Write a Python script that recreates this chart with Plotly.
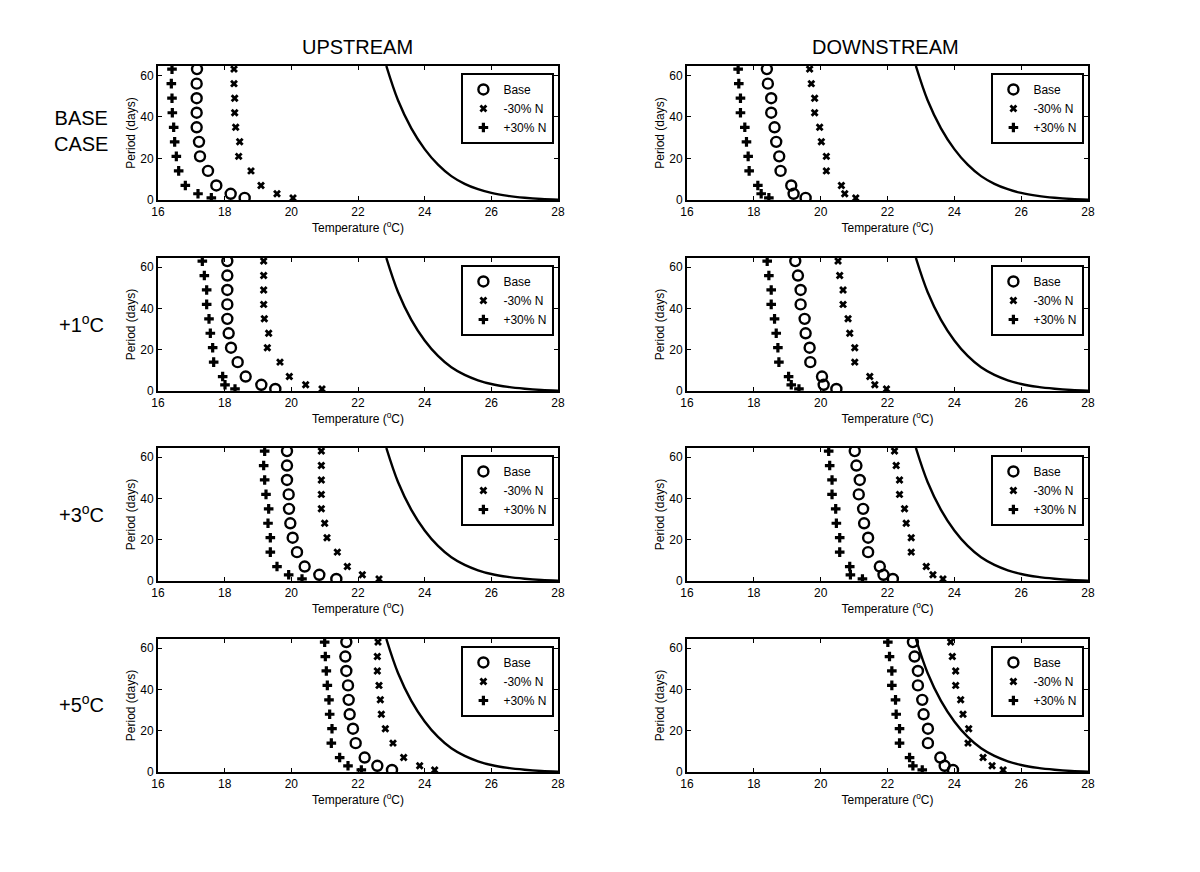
import plotly.graph_objects as go

period = [1, 3, 7, 14, 21, 28, 35, 42, 49, 56, 63]

# threshold curve (same in every panel)
curve_t = [22.85, 23.2, 23.6, 24.0, 24.4, 24.8, 25.2, 25.6, 26.0, 26.5, 27.0, 27.5, 28.0]
curve_p = [64.5, 48, 34.5, 24.5, 17, 11.5, 7.8, 5.2, 3.4, 2.0, 1.1, 0.5, 0.15]

# upstream
up_base_base = [18.6, 18.18, 17.75, 17.5, 17.26, 17.23, 17.16, 17.16, 17.16, 17.16, 17.17]
up_base_m30 = [20.05, 19.57, 19.09, 18.79, 18.42, 18.45, 18.33, 18.3, 18.3, 18.28, 18.28]
up_base_p30 = [17.6, 17.2, 16.82, 16.62, 16.55, 16.5, 16.47, 16.43, 16.42, 16.4, 16.42]

up_p1_base = [19.52, 19.1, 18.63, 18.39, 18.19, 18.12, 18.08, 18.08, 18.08, 18.08, 18.08]
up_p1_m30 = [20.92, 20.43, 19.94, 19.66, 19.28, 19.32, 19.19, 19.17, 19.17, 19.17, 19.17]
up_p1_p30 = [18.31, 18.01, 17.94, 17.67, 17.64, 17.57, 17.53, 17.46, 17.46, 17.39, 17.33]

up_p3_base = [21.35, 20.84, 20.4, 20.17, 20.04, 19.97, 19.93, 19.92, 19.87, 19.87, 19.87]
up_p3_m30 = [22.63, 22.13, 21.68, 21.38, 21.07, 21.0, 20.9, 20.9, 20.9, 20.9, 20.9]
up_p3_p30 = [20.32, 19.92, 19.57, 19.37, 19.37, 19.3, 19.32, 19.24, 19.2, 19.17, 19.2]

up_p5_base = [23.02, 22.58, 22.2, 21.93, 21.85, 21.75, 21.72, 21.7, 21.65, 21.62, 21.65]
up_p5_m30 = [24.3, 23.85, 23.37, 23.05, 22.82, 22.7, 22.67, 22.63, 22.58, 22.58, 22.6]
up_p5_p30 = [22.1, 21.7, 21.45, 21.2, 21.22, 21.15, 21.13, 21.08, 21.05, 21.02, 21.0]

# downstream
dn_base_base = [19.55, 19.19, 19.12, 18.8, 18.76, 18.67, 18.62, 18.52, 18.52, 18.42, 18.39]
dn_base_m30 = [21.05, 20.72, 20.62, 20.17, 20.17, 20.02, 19.97, 19.82, 19.82, 19.72, 19.67]
dn_base_p30 = [18.45, 18.22, 18.12, 17.86, 17.83, 17.78, 17.73, 17.6, 17.6, 17.55, 17.53]

dn_p1_base = [20.47, 20.09, 20.04, 19.69, 19.67, 19.55, 19.52, 19.4, 19.4, 19.32, 19.24]
dn_p1_m30 = [21.97, 21.62, 21.47, 21.02, 21.02, 20.87, 20.82, 20.67, 20.67, 20.57, 20.52]
dn_p1_p30 = [19.35, 19.12, 19.04, 18.75, 18.72, 18.67, 18.62, 18.52, 18.52, 18.45, 18.4]

dn_p3_base = [22.16, 21.88, 21.77, 21.42, 21.42, 21.3, 21.27, 21.14, 21.17, 21.07, 21.02]
dn_p3_m30 = [23.66, 23.36, 23.16, 22.71, 22.71, 22.56, 22.51, 22.36, 22.36, 22.26, 22.21]
dn_p3_p30 = [21.25, 20.89, 20.87, 20.57, 20.57, 20.47, 20.45, 20.34, 20.34, 20.27, 20.24]

dn_p5_base = [23.96, 23.71, 23.58, 23.21, 23.21, 23.08, 23.04, 22.91, 22.91, 22.81, 22.76]
dn_p5_m30 = [25.46, 25.13, 24.86, 24.41, 24.43, 24.26, 24.19, 24.04, 24.04, 23.94, 23.89]
dn_p5_p30 = [23.04, 22.76, 22.66, 22.36, 22.36, 22.26, 22.24, 22.13, 22.13, 22.06, 22.01]

panels = [
    (up_base_base, up_base_m30, up_base_p30),
    (dn_base_base, dn_base_m30, dn_base_p30),
    (up_p1_base, up_p1_m30, up_p1_p30),
    (dn_p1_base, dn_p1_m30, dn_p1_p30),
    (up_p3_base, up_p3_m30, up_p3_p30),
    (dn_p3_base, dn_p3_m30, dn_p3_p30),
    (up_p5_base, up_p5_m30, up_p5_p30),
    (dn_p5_base, dn_p5_m30, dn_p5_p30),
]
row_labels = ["BASE<br>CASE", "+1<sup>o</sup>C", "+3<sup>o</sup>C", "+5<sup>o</sup>C"]
row_label_y = [130, 322, 512, 702]

W, H = 1200, 872
OX, OY = 7, 7  # page offset compensation
col_px = [(157, 557), (686, 1087)]
row_px = [(65, 199), (257, 390), (447, 580), (638, 771)]
px = lambda v: (v - OX) / W
py = lambda v: 1 - (v - OY) / H

font = dict(family="Liberation Sans, Arial", color="black")
fig = go.Figure()
layout = dict(width=W, height=H, margin=dict(l=0, r=0, t=0, b=0, autoexpand=False),
              plot_bgcolor="white", paper_bgcolor="white", font=font)
annotations = []

for i, (base, m30, p30) in enumerate(panels):
    r, c = divmod(i, 2)
    n = "" if i == 0 else str(i + 1)
    top, bot = row_px[r]
    xdom = (px(col_px[c][0]), px(col_px[c][1]))
    ydom = (py(bot), py(top))
    lg = "legend" + n
    common = dict(xaxis="x" + n, yaxis="y" + n, legend=lg, mode="markers")
    fig.add_trace(go.Scatter(x=base, y=period, name="Base", **common,
                             marker=dict(symbol="circle-open", size=10, color="black",
                                         line=dict(width=2.4, color="black"))))
    fig.add_trace(go.Scatter(x=m30, y=period, name="-30% N", **common,
                             marker=dict(symbol="x", size=7, color="black", line=dict(width=0))))
    fig.add_trace(go.Scatter(x=p30, y=period, name="+30% N", **common,
                             marker=dict(symbol="cross", size=8, color="black", line=dict(width=0))))
    fig.add_trace(go.Scatter(x=curve_t, y=curve_p, mode="lines", line=dict(color="black", width=2.4, shape="spline"),
                             xaxis="x" + n, yaxis="y" + n, showlegend=False))
    axstyle = dict(showline=True, linecolor="black", linewidth=2, mirror="ticks", ticks="inside",
                   ticklen=4, tickcolor="black", showgrid=False, zeroline=False, automargin=False,
                   tickfont=dict(size=12, **font))
    layout["xaxis" + n] = dict(domain=xdom, range=[16, 28], tickvals=[16, 18, 20, 22, 24, 26, 28],
                               anchor="y" + n, title=dict(text="Temperature (<sup>o</sup>C)", font=dict(size=12), standoff=2),
                               **axstyle)
    layout["yaxis" + n] = dict(domain=ydom, range=[0, 64.5], tickvals=[0, 20, 40, 60],
                               anchor="x" + n, title=dict(text="Period (days)", font=dict(size=12), standoff=2),
                               **axstyle)
    layout[lg] = dict(x=xdom[1] - 0.003, y=ydom[1] - 0.008, xanchor="right", yanchor="top",
                      bgcolor="white", bordercolor="black", borderwidth=2,
                      font=dict(size=12, **font), tracegroupgap=0, itemwidth=30)
    if c == 0:
        annotations.append(dict(text=row_labels[r], x=px(80), y=py(row_label_y[r]),
                                xanchor="center", yanchor="middle",
                                xref="paper", yref="paper", showarrow=False, font=dict(size=20)))

annotations.append(dict(text="UPSTREAM", x=px(356), y=py(46), xanchor="center", yanchor="middle",
                        xref="paper", yref="paper", showarrow=False, font=dict(size=20)))
annotations.append(dict(text="DOWNSTREAM", x=px(884), y=py(46), xanchor="center", yanchor="middle",
                        xref="paper", yref="paper", showarrow=False, font=dict(size=20)))
layout["annotations"] = annotations
fig.update_layout(**layout)
fig.write_html("out.html")
